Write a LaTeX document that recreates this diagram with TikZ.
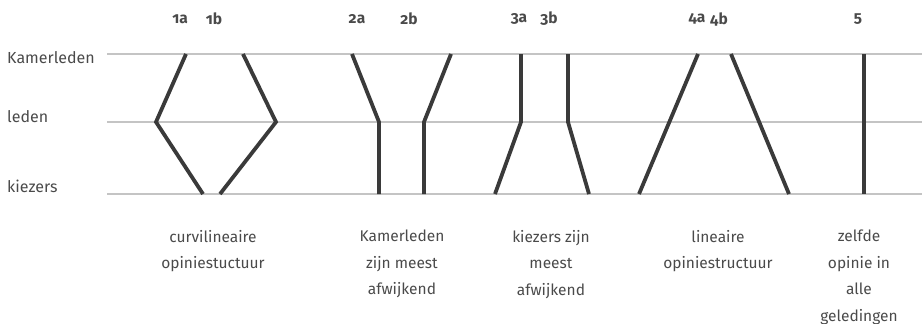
\documentclass[tikz,border=0pt]{standalone}
\usepackage{fontspec}
\setmainfont{Fira Sans}
\newfontfamily\numfont[Numbers=OldStyle]{Fira Sans}
\definecolor{darkline}{HTML}{3A3A3A}
\definecolor{gridline}{HTML}{C4C4C4}
\definecolor{txt}{HTML}{4A4A4A}
\begin{document}
\begin{tikzpicture}[x=1pt,y=-1pt,
  level/.style={draw=gridline, line width=1.2pt},
  prof/.style={draw=darkline, line width=3.8pt, line join=miter},
  rowlabel/.style={anchor=west, inner sep=0pt, text=txt, font=\fontsize{16}{18}\selectfont},
  toplabel/.style={inner sep=0pt, text=txt, font=\numfont\bfseries\fontsize{15.5}{17}\selectfont},
  caption/.style={anchor=north, inner sep=0pt, align=center, text=txt, font=\fontsize{15.5}{26.5}\selectfont}]
\useasboundingbox (0,0) rectangle (922,324);
% level lines
\coordinate (kL) at (107,54);  \coordinate (kR) at (922,54);
\coordinate (lL) at (107,122); \coordinate (lR) at (922,122);
\coordinate (vL) at (107,194); \coordinate (vR) at (922,194);
\draw[level] (kL) -- (kR);
\draw[level] (lL) -- (lR);
\draw[level] (vL) -- (vR);
% row labels
\node[rowlabel] (rk) at (7,58) {Kamerleden};
\node[rowlabel] (rl) at (7,117) {leden};
\node[rowlabel] (rv) at (7,186) {kiezers};
% top labels
\node[toplabel] (t1a) at (180,19) {1a};
\node[toplabel] (t1b) at (214,19) {1b};
\node[toplabel] (t2a) at (357,19) {2a};
\node[toplabel] (t2b) at (409,19) {2b};
\node[toplabel] (t3a) at (519,19) {3a};
\node[toplabel] (t3b) at (549,19) {3b};
\node[toplabel] (t4a) at (697,19) {4a};
\node[toplabel] (t4b) at (719,19) {4b};
\node[toplabel] (t5) at (858,19) {5};
% profile points
\coordinate (a1) at (186,54); \coordinate (a2) at (156,122); \coordinate (a3) at (203,194);
\coordinate (b1) at (243,54); \coordinate (b2) at (276,122); \coordinate (b3) at (220,194);
\coordinate (c1) at (352,54); \coordinate (c2) at (379,122); \coordinate (c3) at (379,194);
\coordinate (d1) at (451,54); \coordinate (d2) at (424,122); \coordinate (d3) at (424,194);
\coordinate (e1) at (521,54); \coordinate (e2) at (521,122); \coordinate (e3) at (495,194);
\coordinate (f1) at (568,54); \coordinate (f2) at (568,122); \coordinate (f3) at (589,194);
\coordinate (g1) at (698,54); \coordinate (g3) at (639,194);
\coordinate (h1) at (731,54); \coordinate (h3) at (789,194);
\coordinate (i1) at (864,54); \coordinate (i3) at (864,194);
\draw[prof] (a1) -- (a2) -- (a3);
\draw[prof] (b1) -- (b2) -- (b3);
\draw[prof] (c1) -- (c2) -- (c3);
\draw[prof] (d1) -- (d2) -- (d3);
\draw[prof] (e1) -- (e2) -- (e3);
\draw[prof] (f1) -- (f2) -- (f3);
\draw[prof] (g1) -- (g3);
\draw[prof] (h1) -- (h3);
\draw[prof] (i1) -- (i3);
% captions
\node[caption] (c1n) at (213,230) {curvilineaire\\opiniestuctuur};
\node[caption] (c2n) at (402,230) {Kamerleden\\zijn meest\\afwijkend};
\node[caption] (c3n) at (551,230) {kiezers zijn\\meest\\afwijkend};
\node[caption] (c4n) at (718,230) {lineaire\\opiniestructuur};
\node[caption] (c5n) at (859,230) {zelfde\\opinie in\\alle\\geledingen};
\end{tikzpicture}
\end{document}
